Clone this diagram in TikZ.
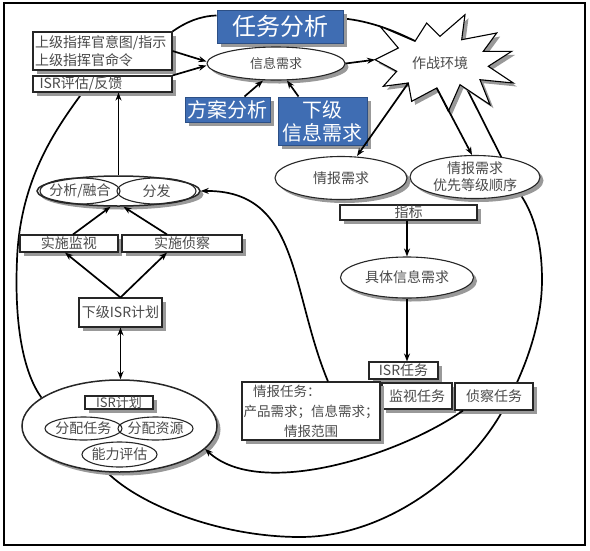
\documentclass[tikz,border=0pt]{standalone}
\usepackage{fontspec}
\setmainfont{Noto Sans CJK SC}
\usetikzlibrary{arrows.meta,shapes.geometric,shadows}
\definecolor{bluefill}{HTML}{3F6DB3}
\definecolor{blueline}{HTML}{2C4F85}
\definecolor{txt}{HTML}{4A4A4A}
\newcommand{\myfs}[2]{\fontsize{#1pt}{#2pt}\selectfont}
\pgfdeclarelayer{bg}
\pgfsetlayers{bg,main}
\tikzset{
  sh/.style={drop shadow={shadow xshift=3.5pt,shadow yshift=-3.5pt,fill=black!40,opacity=1}},
  plainbox/.style={draw=black!85, line width=1.1pt, fill=white, rectangle, inner sep=0pt, text=txt, font=\myfs{14}{17}},
  box/.style={plainbox, sh},
  plainell/.style={draw=black!85, line width=1.1pt, ellipse, inner sep=0pt, text=txt, font=\myfs{14}{17}},
  ell/.style={plainell, fill=white, sh},
  bluebox/.style={draw=blueline, line width=1pt, fill=bluefill, text=white, inner sep=0pt, sh},
  conn/.style={line width=1.7pt, black},
  arr/.style={conn, -{Stealth[length=8pt,width=6pt]}},
  arrboth/.style={conn, {Stealth[length=8pt,width=6pt]}-{Stealth[length=8pt,width=6pt]}},
}
\begin{document}
\begin{tikzpicture}[x=1pt,y=-1pt]
\useasboundingbox (0,0) rectangle (590,550);
\draw[line width=1.5pt] (4,3) rectangle (585,545);

% top / upper left
\node[box, minimum width=139pt, minimum height=38pt, text width=135pt, align=left, font=\myfs{14}{18}] (cmd) at (102.5,51) {上级指挥官意图/指示\\上级指挥官命令};
\node[box, minimum width=139pt, minimum height=16pt, text width=126pt, align=left] (isreval) at (102.5,84) {ISR评估/反馈};
\node[bluebox, minimum width=126pt, minimum height=33pt, font=\myfs{24}{28}] (task) at (280,26.5) {任务分析};
\node[ell, minimum width=138pt, minimum height=33pt, font=\myfs{13}{15}] (info) at (276,63.5) {信息需求};
\node[bluebox, minimum width=85pt, minimum height=25pt, font=\myfs{20}{22}] (fangan) at (227.5,109.5) {方案分析};
\node[bluebox, minimum width=89pt, minimum height=48pt, align=center, font=\myfs{20}{23}] (xiaji) at (322.5,121) {下级\\信息需求};

% star
\draw[line width=1.1pt, fill=white, preaction={fill=black!40, transform canvas={shift={(3.5pt,-3.5pt)}}}]
 (380,26.3) -- (415,41.3) -- (426.7,23) -- (440,36.3) -- (465,14.7) -- (461.7,39.7) -- (496.7,33) -- (483.3,51.3) -- (511.7,51.3) -- (488.3,66.3) -- (513.3,83) -- (480,79.7) -- (490,104.7) -- (460,84.7) -- (448.3,111.3) -- (436.7,88) -- (411.7,101.3) -- (408.3,83) -- (383.3,86.3) -- (396.7,71.3) -- (375,59.7) -- (398.3,48) -- cycle;
\node[text=txt, font=\myfs{14}{17}] (env) at (440,63) {作战环境};
\coordinate (sL) at (375,59.7);
\coordinate (sA) at (408.3,83);
\coordinate (sB) at (436.7,88);
\coordinate (sC) at (467,89);
\coordinate (sU) at (415,41);

% right column
\node[ell, minimum width=132pt, minimum height=43pt] (qingbao) at (341,178) {情报需求};
\node[ell, minimum width=130pt, minimum height=43pt, align=center] (youxian) at (475,177) {情报需求\\优先等级顺序};
\node[box, minimum width=137pt, minimum height=15pt] (zhibiao) at (408.5,212.5) {指标};
\node[ell, minimum width=133pt, minimum height=41pt] (juti) at (407,277.5) {具体信息需求};
\node[box, minimum width=69pt, minimum height=17pt] (isrtask) at (403.5,370.5) {ISR任务};
\node[box, minimum width=70pt, minimum height=26pt] (jianshi) at (417,396) {监视任务};
\node[box, minimum width=78pt, minimum height=27pt] (zhencha) at (494,396.5) {侦察任务};
\node[box, minimum width=138pt, minimum height=58pt, align=center, font=\myfs{13.5}{20}] (qbtask) at (311,411)
 {\makebox[134pt][l]{\hspace*{9pt}情报任务：}\\产品需求；信息需求；\\情报范围};

% left column
\node[ell, minimum width=163pt, minimum height=30pt, line width=1.5pt] (fxout) at (118.5,191) {};
\node[plainell, minimum width=80pt, minimum height=26pt, inner xsep=-5pt] (fenxi) at (80,191) {分析/融合};
\node[plainell, minimum width=79pt, minimum height=26pt, inner xsep=-5pt] (fenfa) at (156.5,191) {分发};
\node[box, minimum width=98pt, minimum height=17pt] (jsjs) at (69,243.5) {实施监视};
\node[box, minimum width=120pt, minimum height=17pt] (jszc) at (182,243.5) {实施侦察};
\node[box, minimum width=83pt, minimum height=29pt] (xjisr) at (120.5,312.5) {下级ISR计划};
\node[ell, minimum width=195pt, minimum height=92pt, line width=1.5pt] (isrplan) at (119.5,426) {};
\node[box, minimum width=68pt, minimum height=13pt, font=\myfs{13}{14}] (isrlabel) at (119,402.5) {ISR计划};
\node[plainell, minimum width=77pt, minimum height=23pt, inner xsep=-3pt] (fprw) at (83.5,428.5) {分配任务};
\node[plainell, minimum width=75pt, minimum height=23pt, inner xsep=-3pt] (fpzy) at (155.5,428.5) {分配资源};
\node[plainell, minimum width=75pt, minimum height=25pt, inner xsep=-3pt] (nlpg) at (119.5,454.5) {能力评估};

% big loop (behind nodes)
\begin{pgfonlayer}{bg}
\draw[conn] (cmd.north east) .. controls (186,22) and (200,16) .. ([yshift=11pt]task.west);
\draw[conn] ([yshift=8pt]task.east) .. controls (370,21) and (395,31) .. (sU);
\draw[conn] (sC) -- (youxian.-20);
\draw[conn] (youxian.-20) .. controls (535,215) and (542,245) .. (542,280)
  .. controls (542,330) and (520,380) .. (503,410)
  .. controls (470,470) and (390,537) .. (300,537)
  .. controls (220,537) and (140,505) .. ([xshift=-12pt]isrplan.south);
\draw[conn] (isrplan.160) .. controls (25,375) and (14,330) .. (17,260)
  .. controls (20,180) and (55,130) .. ([xshift=-20pt]isreval.south);
\end{pgfonlayer}

% arrows
\draw[arr] ([xshift=-31pt]zhencha.south) .. controls (400,455) and (260,500) .. (isrplan.-15);
\draw[arr] ([xshift=17pt]qbtask.north) .. controls (290,290) and (300,190) .. (fxout.east);
\draw[arr] (cmd.east) -- ([yshift=2pt]info.west);
\draw[arr] (isreval.north east) -- ([yshift=-2pt]info.west);
\draw[arr] ([xshift=17pt]fangan.north) -- ([xshift=-13pt]info.south);
\draw[arr] ([xshift=-24pt]xiaji.north) -- ([xshift=11pt]info.south);
\draw[arr] (info.east) -- (sL);
\draw[arr] (sA) -- ([xshift=16pt]qingbao.north);
\draw[arr] (sB) -- ([xshift=-3pt]youxian.north);
\draw[arr] (juti.north |- zhibiao.south) -- (juti.north);
\draw[arr] (juti.south) -- (juti.south |- isrtask.north);
\draw[arr] (fxout.north) -- (fxout.north |- isreval.south);
\draw[arr] ([xshift=4pt]jsjs.north) -- ([xshift=-8pt]fxout.south);
\draw[arr] ([xshift=-15pt]jszc.north) -- ([xshift=5pt]fxout.south);
\draw[arr] (xjisr.north) -- ([xshift=-4pt]jsjs.south);
\draw[arr] (xjisr.north) -- ([xshift=-15pt]jszc.south);
\draw[arrboth] (xjisr.south) -- (xjisr.south |- isrplan.north);
\end{tikzpicture}
\end{document}
